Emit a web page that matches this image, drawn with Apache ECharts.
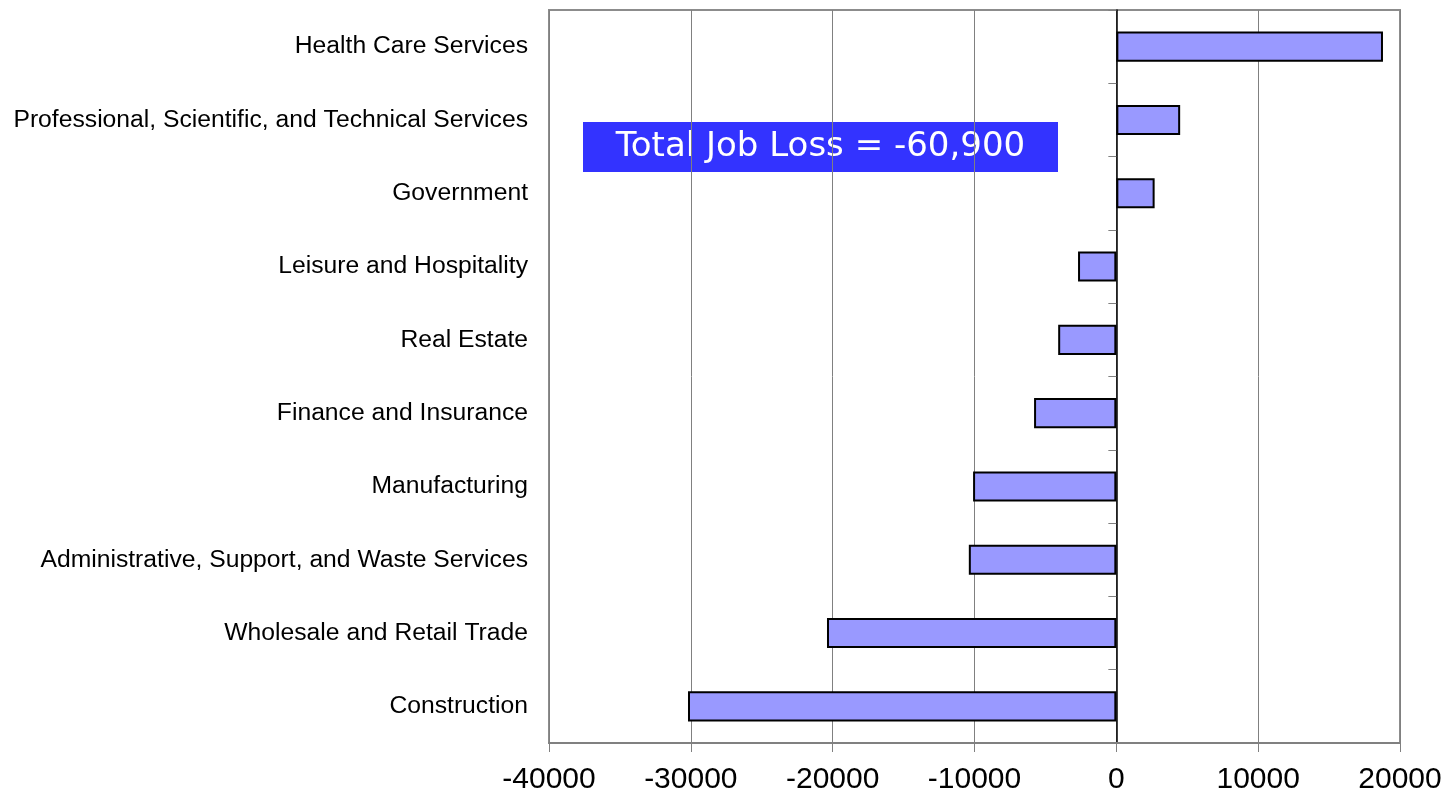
<!DOCTYPE html>
<html>
<head>
<meta charset="utf-8">
<script src="https://cdn.jsdelivr.net/npm/echarts@6/dist/echarts.min.js"></script>
<style>
html,body{margin:0;padding:0;background:#fff;}
#chart{width:1451px;height:795px;}
</style>
</head>
<body>
<div id="chart"></div>
<script>
const categories = [
  "Health Care Services",
  "Professional, Scientific, and Technical Services",
  "Government",
  "Leisure and Hospitality",
  "Real Estate",
  "Finance and Insurance",
  "Manufacturing",
  "Administrative, Support, and Waste Services",
  "Wholesale and Retail Trade",
  "Construction"
];
const jobChange = [18800, 4500, 2700, -2700, -4100, -5800, -10100, -10400, -20400, -30200];
const xTicks = [-40000, -30000, -20000, -10000, 0, 10000, 20000];
const annotation = "Total Job Loss = -60,900";

const chart = echarts.init(document.getElementById('chart'), null, {renderer: 'canvas'});
chart.setOption({
  animation: false,
  backgroundColor: '#ffffff',
  grid: {
    left: 549, right: 51, top: 10, bottom: 52,
    show: true, borderColor: '#8c8c8c', borderWidth: 2, backgroundColor: 'transparent'
  },
  xAxis: {
    type: 'value',
    min: xTicks[0], max: xTicks[xTicks.length - 1], interval: 10000,
    axisLine: {show: true, onZero: false, lineStyle: {color: '#808080', width: 2}},
    axisTick: {show: true, length: 9, lineStyle: {color: '#808080'}},
    axisLabel: {
      color: '#000', fontSize: 30, fontFamily: 'Liberation Sans, Arial, sans-serif', margin: 22,
      formatter: function (v) { return String(v); }
    },
    splitLine: {show: true, lineStyle: {color: '#808080', width: 1}}
  },
  yAxis: [
    {
      type: 'category', data: categories, inverse: true,
      axisLine: {show: false, onZero: false},
      axisTick: {show: false},
      axisLabel: {color: '#000', fontSize: 24.7, fontFamily: 'Liberation Sans, Arial, sans-serif', margin: 21, padding: [4, 0, 0, 0]},
      splitLine: {show: false}
    },
    {
      type: 'category', data: categories, inverse: true, position: 'left',
      axisLine: {show: true, onZero: true, lineStyle: {color: '#000', width: 1.5}},
      axisTick: {show: true, length: 8, lineStyle: {color: '#808080'}},
      axisLabel: {show: false},
      splitLine: {show: false}
    }
  ],
  series: [{
    type: 'bar',
    data: jobChange,
    yAxisIndex: 0,
    barWidth: '41%',
    itemStyle: {color: '#9999ff', borderColor: '#000', borderWidth: 2},
    z: 3
  }],
  graphic: [{
    type: 'group', left: 583, top: 122, z: 100,
    children: [
      {type: 'rect', shape: {x: 0, y: 0, width: 475, height: 50}, style: {fill: '#3333ff'}},
      {type: 'text', x: 237.5, y: 25, style: {
        text: annotation, fill: '#fff', fontSize: 34, fontWeight: 'normal',
        fontFamily: 'DejaVu Sans, Verdana, sans-serif',
        align: 'center', verticalAlign: 'middle'
      }}
    ]
  }]
});
</script>
</body>
</html>
